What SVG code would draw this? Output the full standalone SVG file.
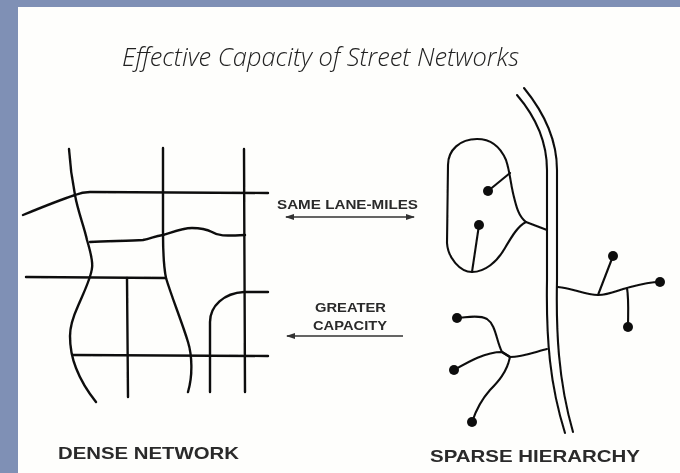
<svg xmlns="http://www.w3.org/2000/svg" width="680" height="473" viewBox="0 0 680 473">
<defs>
<filter id="soft" x="-5%" y="-5%" width="110%" height="110%"><feGaussianBlur stdDeviation="0.6"/></filter>
<marker id="head" markerUnits="userSpaceOnUse" markerWidth="9" markerHeight="7" refX="8" refY="3.5" orient="auto-start-reverse"><path d="M0 0.5L9 3.5L0 6.5Z" fill="#333"/></marker>
</defs>
<style>
.road{fill:none;stroke:#111;stroke-width:2.4;stroke-linecap:round;stroke-linejoin:round}
.thin{stroke-width:2.1}
.dot{fill:#0a0a0a}
.arrow{fill:none;stroke:#333;stroke-width:1.7}
text{font-family:"Liberation Sans",Arial,sans-serif;fill:#2a2a2a}
.lab{font-weight:700;font-size:12px}
.cap{font-weight:700;font-size:16.5px}
.title{font-family:"Open Sans","Liberation Sans",sans-serif;font-style:italic;font-weight:300;font-size:25px;fill:#222}
</style>
<rect width="680" height="473" fill="#7f90b5"/>
<rect x="18" y="7" width="662" height="466" fill="#fefefc"/>
<g filter="url(#soft)">
<g id="title"><text class="title" x="122" y="66" textLength="397" lengthAdjust="spacingAndGlyphs">Effective Capacity of Street Networks</text></g>
<g id="dense-network">
<path class="road" d="M69 149C70 165 72 180 75 195C78 212 84 226 87 240C90 250 93 262 92 268C91 278 84 292 78 306C73 317 70 325 70 336C70 348 72 358 76 368C81 381 88 392 96 402"/>
<path class="road" d="M23 215C40 208 60 200 75 195C80 193 84 192 90 192L268 193"/>
<path class="road" d="M163 148L163 233C163 250 164 268 166 278C172 298 182 322 188 342C192 355 193 375 188 392"/>
<path class="road" d="M244 149L245 392"/>
<path class="road" d="M90 242C108 241 130 241 143 240C152 238 155 236 163 235C173 232 182 228 192 228C200 228 206 229 212 232C218 236 224 236 245 235"/>
<path class="road" d="M26 277L166 278"/>
<path class="road" d="M127 278L128 397"/>
<path class="road" d="M268 292L244 292C224 293 210 306 210 322L210 392"/>
<path class="road" d="M73 355L268 356"/>
<text class="cap" x="58" y="459" textLength="181" lengthAdjust="spacingAndGlyphs">DENSE NETWORK</text>
</g>
<g id="sparse-hierarchy">
<path class="road thin" d="M524 88C542 110 557 138 557 170L557 280C556 330 558 380 573 432"/>
<path class="road thin" d="M517 95C535 116 547 140 547 170L547 280C546 340 550 385 565 433"/>
<path class="road thin" d="M547 230L526 222C518 216 516 205 513 193C510 180 510 172 506 160C500 146 490 139 477 139C460 139 448 150 448 165L447 243C448 258 460 272 472 272C485 272 497 262 505 248C512 236 518 226 526 222"/>
<path class="road thin" d="M488 191L510 173"/>
<path class="road thin" d="M479 225L472 272"/>
<path class="road thin" d="M558 287C572 288 585 295 598 295C610 295 618 290 627 288C638 285 648 282 660 282"/>
<path class="road thin" d="M613 256L598 295"/>
<path class="road thin" d="M627 288C629 300 628 315 628 327"/>
<path class="road thin" d="M547 349C535 352 522 357 510 357L502 352C496 340 496 325 487 319C478 314 465 318 457 318"/>
<path class="road thin" d="M454 370C468 362 485 352 502 352L510 357"/>
<path class="road thin" d="M510 357C507 372 498 382 490 390C482 399 476 410 472 422"/>
<circle class="dot" cx="488" cy="191" r="5"/>
<circle class="dot" cx="479" cy="225" r="5"/>
<circle class="dot" cx="613" cy="256" r="5"/>
<circle class="dot" cx="660" cy="282" r="5"/>
<circle class="dot" cx="628" cy="327" r="5"/>
<circle class="dot" cx="457" cy="318" r="5"/>
<circle class="dot" cx="454" cy="370" r="5"/>
<circle class="dot" cx="472" cy="422" r="5"/>
<text class="cap" x="430" y="462" textLength="210" lengthAdjust="spacingAndGlyphs">SPARSE HIERARCHY</text>
</g>
<g id="same-lane-miles"><text class="lab" x="277" y="209" textLength="141" lengthAdjust="spacingAndGlyphs">SAME LANE-MILES</text></g>
<g id="greater-capacity"><text class="lab" x="315" y="312" textLength="71" lengthAdjust="spacingAndGlyphs">GREATER</text><text class="lab" x="313" y="330" textLength="74" lengthAdjust="spacingAndGlyphs">CAPACITY</text></g>
<g id="connectors">
<path class="arrow" d="M286 217L414 217" marker-start="url(#head)" marker-end="url(#head)"/>
<path class="arrow" d="M403 336L287 336" marker-end="url(#head)"/>
</g>
</g>
</svg>
